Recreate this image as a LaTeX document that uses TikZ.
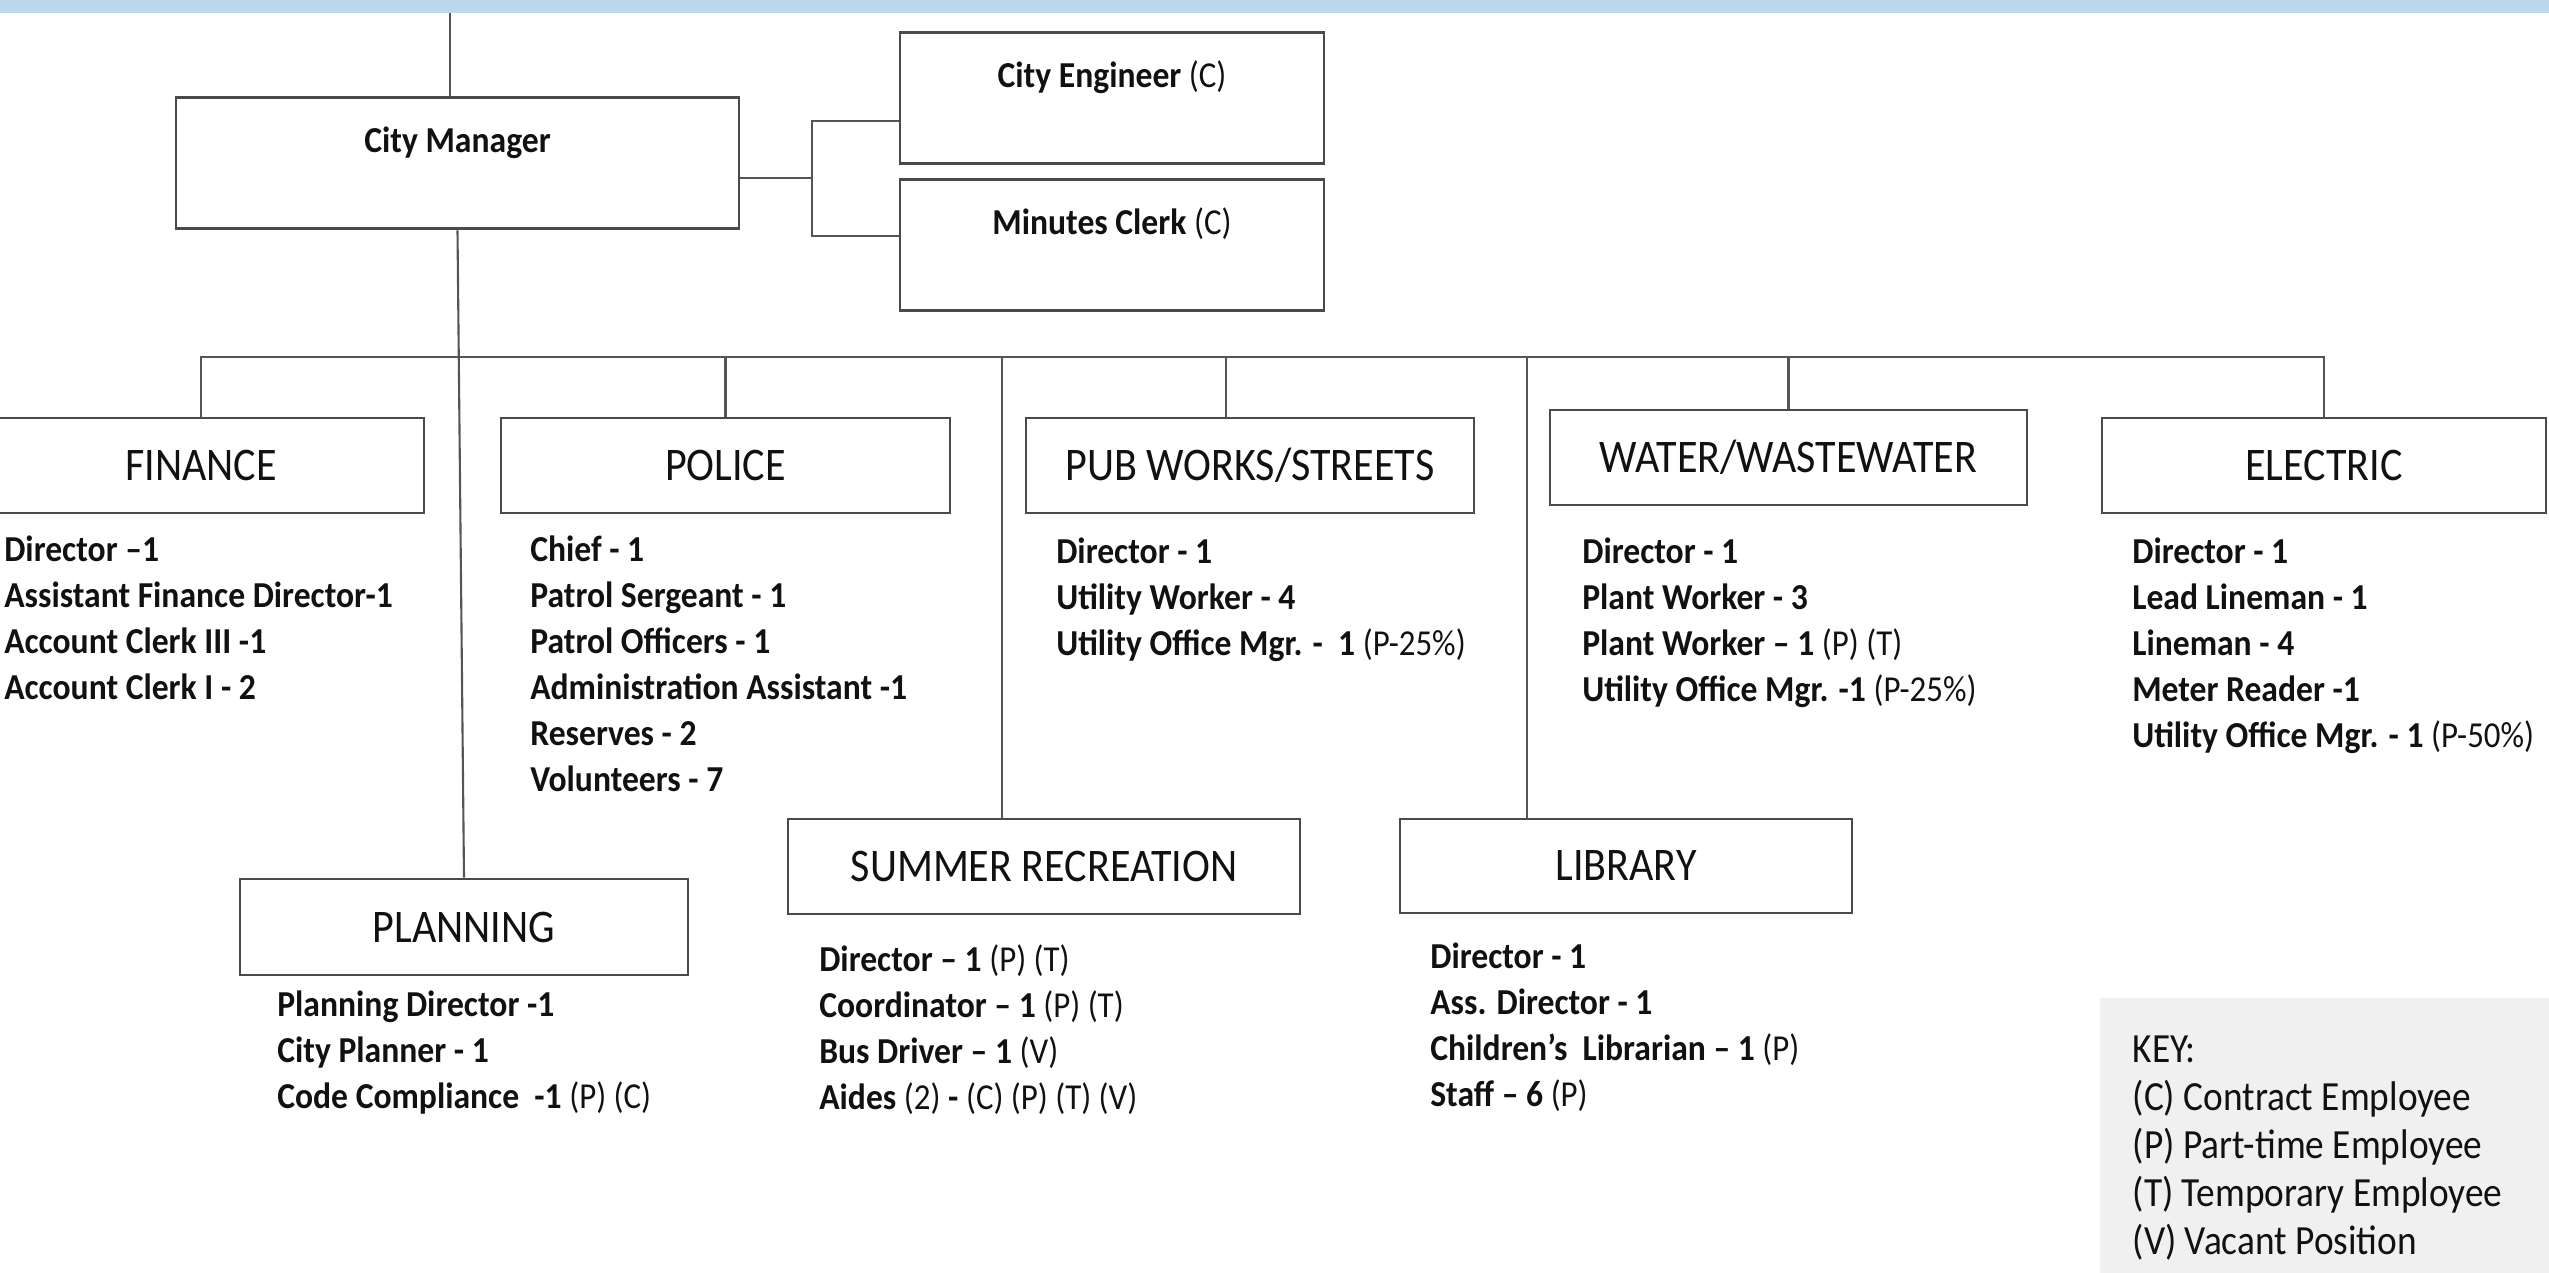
\documentclass[tikz,border=0pt]{standalone}
\usepackage{fontspec}
\setmainfont{Carlito}[FakeStretch=0.9, BoldFeatures={FakeStretch=0.92}]
\usetikzlibrary{positioning}
\definecolor{ink}{HTML}{111111}
\definecolor{boxline}{HTML}{4A4A4A}
\definecolor{linkc}{HTML}{555555}
\definecolor{barblue}{HTML}{BDD7EE}
\definecolor{keybg}{HTML}{F0F0F0}
\newcommand{\tagcode}[1]{{\mdseries #1}}
\tikzset{
  box/.style={
    draw=boxline,
    line width=0.8pt,
    inner sep=0pt,
    text=ink
  },
  head/.style={box, anchor=north, text height=5.55mm, text depth=7.6mm,
    font=\bfseries\fontsize{10.4}{12}\selectfont},
  dept/.style={box, minimum height=9.5mm, font=\fontsize{13.3}{16}\selectfont},
  staff/.style={inner sep=0pt, align=left, text=ink,
    font=\bfseries\fontsize{10.4}{13.1}\selectfont},
  keybox/.style={fill=keybg, inner sep=0pt, anchor=north west},
  keytext/.style={inner sep=0pt, align=left, text=ink,
    font=\fontsize{11.8}{13.7}\selectfont},
  link/.style={draw=linkc, line width=0.6pt}
}

\begin{document}
\begin{tikzpicture}[x=0.1mm, y=-0.1mm]

\useasboundingbox (0,0) rectangle (2549,1273);
\clip (0,0) rectangle (2549,1273);
\fill[barblue] (0,0) rectangle (2549,13);

\node[head, minimum width=56.3mm] (manager) at (457.5,96) {City Manager};
\node[head, minimum width=42.4mm] (engineer) at (1112,31) {City Engineer \tagcode{(C)}};
\node[head, minimum width=42.4mm] (clerk) at (1112,178) {Minutes Clerk \tagcode{(C)}};

\node[dept, minimum width=44.6mm] (finance) at (201,465.5) {FINANCE};
\node[dept, minimum width=44.9mm] (police) at (725.5,465.5) {POLICE};
\node[dept, minimum width=44.8mm] (pubworks) at (1250,465.5) {PUB WORKS/STREETS};
\node[dept, minimum width=47.7mm] (water) at (1788.5,457.5) {WATER/WASTEWATER};
\node[dept, minimum width=44.4mm] (electric) at (2324,465.5) {ELECTRIC};
\node[dept, minimum width=44.8mm, minimum height=9.6mm] (planning) at (464,927) {PLANNING};
\node[dept, minimum width=51.2mm] (summer) at (1044,866.5) {SUMMER RECREATION};
\node[dept, minimum width=45.2mm, minimum height=9.4mm] (library) at (1626,866) {LIBRARY};

\node[staff, below right=2.1mm and 2.7mm of finance.south west] (financestaff) {
  Director --1\\
  Assistant Finance Director-1\\
  Account Clerk III -1\\
  Account Clerk I - 2
};

\node[staff, below right=2.1mm and 3.0mm of police.south west] (policestaff) {
  Chief - 1\\
  Patrol Sergeant - 1\\
  Patrol Officers - 1\\
  Administration Assistant -1\\
  Reserves - 2\\
  Volunteers - 7
};

\node[staff, below right=2.3mm and 3.1mm of pubworks.south west] (pubworksstaff) {
  Director - 1\\
  Utility Worker - 4\\
  Utility Office Mgr. -~~1 \tagcode{(P-25\%)}
};

\node[staff, below right=3.1mm and 3.3mm of water.south west] (waterstaff) {
  Director - 1\\
  Plant Worker - 3\\
  Plant Worker -- 1 \tagcode{(P) (T)}\\
  Utility Office Mgr. -1 \tagcode{(P-25\%)}
};

\node[staff, below right=2.3mm and 3.1mm of electric.south west] (electricstaff) {
  Director - 1\\
  Lead Lineman - 1\\
  Lineman - 4\\
  Meter Reader -1\\
  Utility Office Mgr. - 1 \tagcode{(P-50\%)}
};

\node[staff, below right=1.4mm and 3.8mm of planning.south west] (planningstaff) {
  Planning Director -1\\
  City Planner - 1\\
  Code Compliance~~-1 \tagcode{(P) (C)}
};

\node[staff, below right=2.9mm and 3.2mm of summer.south west] (summerstaff) {
  Director -- 1 \tagcode{(P) (T)}\\
  Coordinator -- 1 \tagcode{(P) (T)}\\
  Bus Driver -- 1 \tagcode{(V)}\\
  Aides \tagcode{(2)} - \tagcode{(C) (P) (T) (V)}
};

\node[staff, below right=2.8mm and 3.1mm of library.south west] (librarystaff) {
  Director - 1\\
  Ass. Director - 1\\
  Children’s~~Librarian -- 1 \tagcode{(P)}\\
  Staff -- 6 \tagcode{(P)}
};

\node[keybox, minimum width=46mm, minimum height=28mm] (keybg) at (2099,997) {};
\node[keytext, below right=3.8mm and 3.3mm of keybg.north west] (keylist) {
  KEY:\\
  (C) Contract Employee\\
  (P) Part-time Employee\\
  (T) Temporary Employee\\
  (V) Vacant Position
};

\coordinate (feed) at (450,13);
\coordinate (bus) at (0,357);
\coordinate (sidetap) at (812,178);
\coordinate (engtap) at (812,121);
\coordinate (clktap) at (812,236);
\coordinate (pubtap) at (1226,357);
\coordinate (sumtap) at (1002,357);
\coordinate (libtap) at (1527,357);

\draw[link] (feed) -- (feed |- manager.north);
\draw[link] (manager.south) -- (planning.north);
\draw[link] (sidetap -| manager.east) -- (sidetap);
\draw[link] (engtap -| engineer.west) -- (engtap) -- (clktap) -- (clktap -| clerk.west);
\draw[link] (finance.north) -- (finance.north |- bus) -- (electric.north |- bus) -- (electric.north);
\foreach \dept in {police, water}
  \draw[link] (\dept.north |- bus) -- (\dept.north);
\draw[link] (pubtap) -- (pubtap |- pubworks.north);
\draw[link] (sumtap) -- (sumtap |- summer.north);
\draw[link] (libtap) -- (libtap |- library.north);

\end{tikzpicture}
\end{document}
